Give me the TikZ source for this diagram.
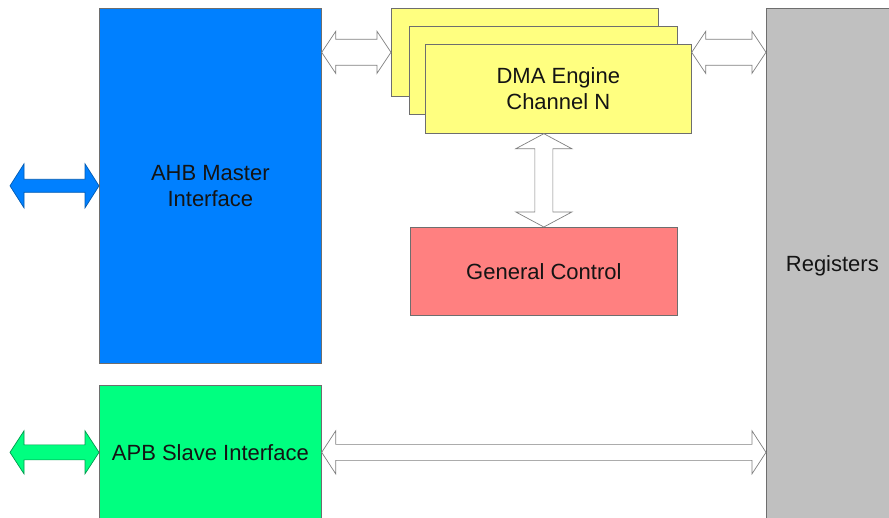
\documentclass[tikz,border=0pt]{standalone}
\usepackage{fontspec}
\setmainfont{Liberation Sans}
\usetikzlibrary{calc}
\definecolor{ahbblue}{RGB}{0,128,255}
\definecolor{apbgreen}{RGB}{0,255,128}
\definecolor{dmayellow}{RGB}{255,255,128}
\definecolor{gcred}{RGB}{255,128,128}
\definecolor{reggray}{RGB}{192,192,192}
\definecolor{edgegray}{RGB}{110,110,110}
\definecolor{arrowgray}{RGB}{128,128,128}
\newcommand\harr[5]{%
  \draw[#1] let \p1=(#2), \p2=(#3) in
    (\x1,\y1) -- (\x1+14pt,\y1+#4) -- (\x1+14pt,\y1+#5) -- (\x2-14pt,\y1+#5)
    -- (\x2-14pt,\y1+#4) -- (\x2,\y1) -- (\x2-14pt,\y1-#4) -- (\x2-14pt,\y1-#5)
    -- (\x1+14pt,\y1-#5) -- (\x1+14pt,\y1-#4) -- cycle;}
\newcommand\varr[5]{%
  \draw[#1] let \p1=(#2), \p2=(#3) in
    (\x1,\y1) -- (\x1+#4,\y1-15pt) -- (\x1+#5,\y1-15pt) -- (\x1+#5,\y2+15pt)
    -- (\x1+#4,\y2+15pt) -- (\x1,\y2) -- (\x1-#4,\y2+15pt) -- (\x1-#5,\y2+15pt)
    -- (\x1-#5,\y1-15pt) -- (\x1-#4,\y1-15pt) -- cycle;}
\begin{document}
\begin{tikzpicture}[x=1pt,y=-1pt,
  box/.style={draw=edgegray, line width=0.7pt, inner sep=0pt, anchor=north west,
    font=\fontsize{22}{26}\selectfont, align=center, text=black!92},
  hollow/.style={draw=arrowgray, fill=white, line width=0.7pt, line join=miter},
  bluearrow/.style={draw=ahbblue!70!black, fill=ahbblue, line width=0.7pt},
  greenarrow/.style={draw=apbgreen!60!black, fill=apbgreen, line width=0.7pt}]
\useasboundingbox (0,0) rectangle (889,518);
\fill[white] (0,0) rectangle (889,518);
% blocks
\node[box, fill=ahbblue, minimum width=222, minimum height=355] (ahb) at (99,8) {AHB Master\\Interface};
\node[box, fill=apbgreen, minimum width=222, minimum height=134] (apb) at (99,385) {APB Slave Interface};
\node[box, fill=dmayellow, minimum width=267, minimum height=88] (dma1) at (391,8) {};
\node[box, fill=dmayellow, minimum width=268, minimum height=88] (dma2) at (409,26) {};
\node[box, fill=dmayellow, minimum width=266, minimum height=89] (dma3) at (425,44) {DMA Engine\\Channel N};
\node[box, fill=gcred, minimum width=267, minimum height=88] (gc) at (410,227) {General Control};
\node[box, fill=reggray, minimum width=132, minimum height=510, text depth=0pt] (regs) at (766,8) {Registers};
% free ends
\coordinate (ahbext) at ($(ahb.west)+(-89,0)$);
\coordinate (apbext) at ($(apb.west)+(-89,0)$);
% connectors
\harr{bluearrow}{ahbext}{ahb.west}{22pt}{6.5pt}
\harr{greenarrow}{apbext}{apb.west}{21.5pt}{7.5pt}
\harr{hollow}{ahb.east |- dma1.west}{dma1.west}{21pt}{13pt}
\harr{hollow}{dma3.east |- dma1.west}{regs.west |- dma1.west}{21pt}{13pt}
\harr{hollow}{apb.east}{regs.west |- apb.east}{21.5pt}{8pt}
\varr{hollow}{gc.north |- dma3.south}{gc.north}{28pt}{9pt}
\end{tikzpicture}
\end{document}
